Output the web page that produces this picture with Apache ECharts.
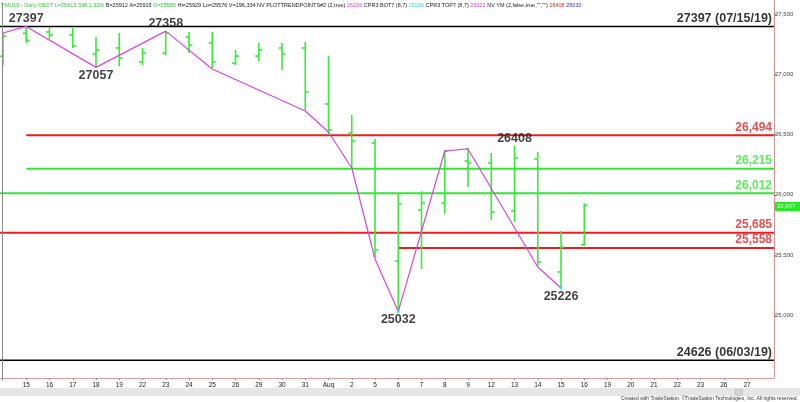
<!DOCTYPE html>
<html><head><meta charset="utf-8">
<script src="https://cdn.jsdelivr.net/npm/echarts@6/dist/echarts.min.js"></script>
<style>html,body{margin:0;padding:0;background:#fff}#c{width:800px;height:402px}</style>
</head><body><div id="c"></div>
<script>
// ---- data ----
const dates = ['Jul 12','Jul 15','Jul 16','Jul 17','Jul 18','Jul 19','Jul 22','Jul 23','Jul 24','Jul 25','Jul 26','Jul 29','Jul 30','Jul 31','Aug 1','Aug 2','Aug 5','Aug 6','Aug 7','Aug 8','Aug 9','Aug 12','Aug 13','Aug 14','Aug 15','Aug 16'];
const openV  = [27150,27340,27351,27326,27168,27218,27102,27176,27309,27259,27093,27151,27218,27218,26753,26512,26429,25450,25873,25931,26280,26263,25865,26297,25359,25585];
const highV  = [27342,27397,27392,27384,27309,27342,27218,27358,27351,27351,27201,27259,27259,27268,27151,26662,26463,26006,26030,26371,26388,26346,26408,26355,25699,25929];
const lowV   = [27077,27259,27293,27218,27057,27068,27077,27160,27176,27052,27077,27110,27035,26695,26496,26222,25475,25032,25384,25840,26064,25790,25774,25409,25226,25576];
const closeV = [27317,27280,27326,27234,27201,27135,27176,27342,27243,27102,27151,27201,27168,26853,26537,26446,25541,25923,25931,26363,26263,25857,26305,25442,25566,25913];
const trendV = [27342,27397,null,null,27057,null,null,27358,null,27044,null,null,null,26695,26521,26222,25467,25032,null,26363,26380,null,null,25400,25226,null];
const tickLabels = ['12','15','16','17','18','19','22','23','24','25','26','29','30','31','Aug','2','5','6','7','8','9','12','13','14','15','16','19','20','21','22','23','26','27'];
const yTicks = [25000,25500,26000,26500,27000,27500];
const levelValues = [27397,26494,26215,26012,25685,25558,24626];
const levelLabels = ['27397 (07/15/19)','26,494','26,215','26,012','25,685','25,558','24626 (06/03/19)'];
const levelStartDate = [null,'Jul 15','Jul 15',null,null,'Aug 6',null];
const pivotDates = ['Jul 15','Jul 18','Jul 23','Aug 13','Aug 6','Aug 15'];
const pivotValues = [27397,27057,27358,26408,25032,25226];
const lastPrice = 25907;

// ---- styles ----
const X_MIN = -0.129, X_MAX = 33.16;
const levelColors = ['#000','#ee1c1c','#33e633','#33e633','#ee1c1c','#ee1c1c','#000'];
const levelWidths = [1.5,2,2,2,2,2,1.5];
const levelFont = [12.5,12,12,12,12,12,12.5];
const pivotAbove = [true,false,true,true,false,false];
const barColor = '#33ee33';

const idx = d => dates.indexOf(d);
const ohlc = dates.map((d,i)=>[i,openV[i],highV[i],lowV[i],closeV[i]]);
const trendData = trendV.map((v,i)=>[i,v]);

const series = [];
levelValues.forEach((v,k)=>{
  const s = levelStartDate[k] ? idx(levelStartDate[k]) : X_MIN;
  series.push({type:'line',data:[[s,v],[X_MAX,v]],symbol:'none',silent:true,
    lineStyle:{color:levelColors[k],width:levelWidths[k]},z:2});
  series.push({type:'scatter',data:[[X_MAX,v]],symbolSize:0,silent:true,z:5,
    label:{show:true,position:'left',distance:0,offset:[-2,-8],formatter:levelLabels[k],
      color:levelColors[k],fontFamily:'Arial',fontWeight:'bold',fontSize:levelFont[k]}});
});
series.push({type:'custom',z:3,data:ohlc,encode:{x:0,y:[1,2,3,4]},
  renderItem:(params,api)=>{
    const x=api.value(0);
    const ph=api.coord([x,api.value(2)]), pl=api.coord([x,api.value(3)]);
    const po=api.coord([x,api.value(1)]), pc=api.coord([x,api.value(4)]);
    const st={stroke:barColor,lineWidth:1.6};
    return {type:'group',children:[
      {type:'line',shape:{x1:ph[0],y1:ph[1],x2:pl[0],y2:pl[1]},style:st},
      {type:'line',shape:{x1:po[0]-3.5,y1:po[1],x2:po[0],y2:po[1]},style:st},
      {type:'line',shape:{x1:pc[0],y1:pc[1],x2:pc[0]+3.5,y2:pc[1]},style:st}
    ]};
  }});
series.push({type:'line',data:trendData,connectNulls:true,symbol:'none',z:4,
  lineStyle:{color:'#e040e0',width:1.2}});
series.push({type:'scatter',z:6,symbol:'rect',symbolSize:3,itemStyle:{color:'#33dddd'},
  data:[[idx('Aug 6'),25032],[idx('Aug 15'),25226]]});
pivotDates.forEach((d,k)=>{
  series.push({type:'scatter',data:[[idx(d),pivotValues[k]]],symbolSize:0,silent:true,z:7,
    label:{show:true,position:pivotAbove[k]?'top':'bottom',distance:pivotAbove[k]?1:2,
      formatter:String(pivotValues[k]),color:'#111',fontFamily:'Arial',fontWeight:'bold',fontSize:12.5}});
});

const F = '5.5px Arial';
const option = {
  animation:false,
  backgroundColor:'#fff',
  grid:{left:0,right:26,top:0,bottom:24},
  xAxis:{type:'value',min:X_MIN,max:X_MAX,splitLine:{show:false},
    axisLine:{show:true,onZero:false,lineStyle:{color:'#e49a9a',width:1}},
    axisTick:{show:true,length:2,lineStyle:{color:'#999'},customValues:tickLabels.map((t,i)=>i).slice(1)},
    axisLabel:{customValues:tickLabels.map((t,i)=>i).slice(1),formatter:v=>tickLabels[Math.round(v)],
      fontSize:6.5,fontFamily:'Arial',color:'#222',margin:4}},
  yAxis:{type:'value',position:'right',min:24479.3,max:27616.2,scale:true,splitLine:{show:false},
    axisLine:{show:true,onZero:false,lineStyle:{color:'#d98c8c',width:1}},
    axisTick:{show:true,length:2,lineStyle:{color:'#999'},customValues:yTicks},
    axisLabel:{customValues:yTicks,formatter:v=>v.toLocaleString('en-US'),fontSize:6,fontFamily:'Arial',color:'#444',margin:1}},
  series:series,
  graphic:[
    {type:'line',left:0,top:0,z:20,shape:{x1:0.5,y1:0,x2:0.5,y2:378},style:{stroke:'#888',lineWidth:1}},
    {type:'text',left:1,top:2,z:20,style:{font:F,fill:'#000',
      text:'{g|YMU19 - Daily CBOT L=25913 338 1.32%} {k|B=25912 A=25915} {g|O=25585} {k|Hi=25929 Lo=25576 V=196,334 NV PLOTTRENDPOINTS#2 (2,true)} {m|25226} {k|CPR3 BOT7 (8,7)} {c|25226} {k|CPR3 TOP7 (8,7)} {m|26922} {k|NV YM (2,false,true,"","")} {r|26408} {b|25032}',
      rich:{g:{fill:'#33cc33',font:F},k:{fill:'#222',font:F},m:{fill:'#e040e0',font:F},
        c:{fill:'#33dddd',font:F},r:{fill:'#ee2222',font:F},b:{fill:'#3333cc',font:F}}}},
    {type:'rect',left:775,top:202,z:20,shape:{width:25,height:9},style:{fill:'#22ee22'}},
    {type:'text',left:777,top:203,z:21,style:{text:lastPrice.toLocaleString('en-US'),font:'6px Arial',fill:'#fff'}},
    {type:'rect',left:0,top:388,z:20,shape:{width:800,height:8},style:{fill:'#e6e6e6'}},
    {type:'rect',left:735,top:389,z:21,shape:{width:7,height:6},style:{fill:'#d4d4d4',stroke:'#aaa',lineWidth:0.5}},
    {type:'text',right:2,top:396,z:20,style:{text:'Created with TradeStation. \u00A9TradeStation Technologies, Inc. All rights reserved.',font:'5px Arial',fill:'#333'}}
  ]
};
echarts.init(document.getElementById('c')).setOption(option);
</script></body></html>
